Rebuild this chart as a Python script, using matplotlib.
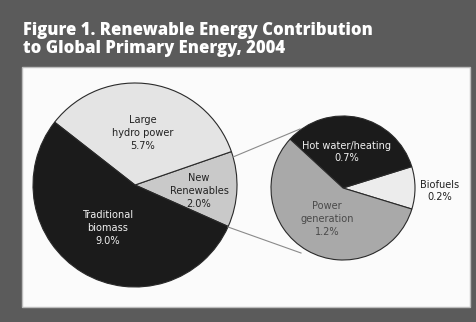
import matplotlib
matplotlib.use("Agg")
import matplotlib.pyplot as plt
from matplotlib.patches import Rectangle

# ---- data ----
title_lines = ["Figure 1. Renewable Energy Contribution", "to Global Primary Energy, 2004"]
main_labels = ["New\nRenewables", "Large\nhydro power", "Traditional\nbiomass"]
main_values = [2.0, 5.7, 9.0]
sub_labels = ["Biofuels", "Hot water/heating", "Power\ngeneration"]
sub_values = [0.2, 0.7, 1.2]

main_colors = ["#c9c9c9", "#e4e4e4", "#1b1b1b"]
sub_colors = ["#ececec", "#1b1b1b", "#a9a9a9"]

W, H = 476, 322
fig = plt.figure(figsize=(W / 100, H / 100), dpi=100)
fig.patch.set_facecolor("#5b5b5b")
ax = fig.add_axes([0, 0, 1, 1])

def Y(y):
    return H - y

# pies
c1, r1 = (135, Y(185)), 102
c2, r2 = (343, Y(188)), 72
wp = dict(edgecolor="#2a2a2a", linewidth=0.8)
ax.pie(main_values, colors=main_colors, startangle=-24, counterclock=True,
       center=c1, radius=r1, wedgeprops=wp, frame=True)
ax.pie(sub_values, colors=sub_colors, startangle=-17, counterclock=True,
       center=c2, radius=r2, wedgeprops=wp, frame=True)
ax.set_xlim(0, W)
ax.set_ylim(0, H)
ax.set_aspect("equal")
ax.axis("off")

# panel
ax.add_patch(Rectangle((22, Y(307)), 448, 240, facecolor="#fbfbfb",
                       edgecolor="#bdbdbd", lw=1.0, zorder=0))

# title
tf = ["Open Sans", "DejaVu Sans"]
for i, line in enumerate(title_lines):
    ax.text(23, Y(30 + 18 * i), line, color="white", fontsize=12.0, fontweight="heavy",
            family=tf, va="center", ha="left")

# connector lines
ax.plot([233, 300], [Y(157), Y(129)], color="#8a8a8a", lw=0.8, zorder=3)
ax.plot([228, 301], [Y(227), Y(253)], color="#8a8a8a", lw=0.8, zorder=3)

lf = ["DejaVu Sans"]
fs = 7.8
def lab(x, y, s, c):
    ax.text(x, Y(y), s, ha="center", va="center", fontsize=fs, color=c,
            family=lf, fontstretch="condensed", linespacing=1.35, zorder=5)

lab(143, 133, "Large\nhydro power\n5.7%", "#222222")
lab(199, 191, "New\nRenewables\n2.0%", "#222222")
lab(108, 228, "Traditional\nbiomass\n9.0%", "#f0f0f0")
lab(347, 152, "Hot water/heating\n0.7%", "#f0f0f0")
lab(327, 219, "Power\ngeneration\n1.2%", "#4a4a4a")
lab(440, 191, "Biofuels\n0.2%", "#222222")

fig.savefig("out.png", dpi=100, facecolor=fig.get_facecolor())
